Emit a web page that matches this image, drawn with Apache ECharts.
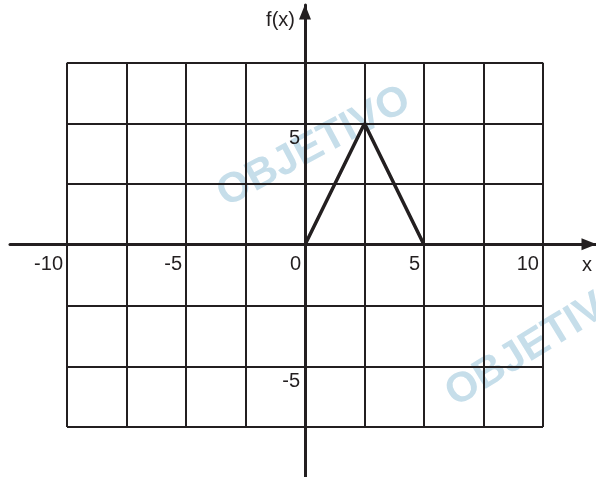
<!DOCTYPE html>
<html>
<head>
<meta charset="utf-8">
<script src="https://cdn.jsdelivr.net/npm/echarts@6/dist/echarts.min.js"></script>
<style>
  html, body { margin: 0; padding: 0; background: #fff; }
  #chart { width: 596px; height: 477px; }
</style>
</head>
<body>
<div id="chart"></div>
<script>
// grid extents (units) and labels
const xRange = [-10, 10]
const yRange = [-7.5, 7.5]
const gridStep = 2.5
const xTickLabels = [-10, -5, 0, 5, 10]
const yTickLabels = [5, -5]
// f(x) polyline points
const fx = [0, 2.5, 5]
const fy = [0, 5, 0]

const ink = '#231f20'
const font = 'Liberation Sans, Arial, sans-serif'
const wmColor = '#c6deea'

const chart = echarts.init(document.getElementById('chart'))

const option = {
  animation: false,
  backgroundColor: '#fff',
  // watermark
  graphic: [
    {
      type: 'text', x: 314, y: 147, rotation: 0.49, z: -10,
      style: { text: 'OBJETIVO', fill: wmColor, font: 'bold 42px ' + font, align: 'center', verticalAlign: 'middle' }
    },
    {
      type: 'text', x: 540, y: 342, rotation: 0.55, z: -10,
      style: { text: 'OBJETIVO', fill: wmColor, font: 'bold 42px ' + font, align: 'center', verticalAlign: 'middle' }
    }
  ],
  grid: [
    // squared paper
    { left: 67, right: 53, top: 62.7, bottom: 50, containLabel: false, outerBoundsMode: 'none' },
    // axes with arrows
    { left: 10, right: 0, top: 5, bottom: 0, containLabel: false, outerBoundsMode: 'none' }
  ],
  xAxis: [
    {
      gridIndex: 0, type: 'value',
      min: xRange[0], max: xRange[1], interval: gridStep,
      axisLine: { show: false }, axisTick: { show: false }, axisLabel: { show: false },
      splitLine: { show: true, lineStyle: { color: ink, width: 2 } }
    },
    {
      gridIndex: 1, type: 'value',
      min: -12.395, max: 12.227,
      position: 'bottom', offset: -232.7,
      name: 'x', nameLocation: 'end', nameGap: -4,
      nameTextStyle: { color: ink, fontFamily: font, fontSize: 20, align: 'right', verticalAlign: 'top', padding: [11, 0, 0, 0] },
      axisLine: {
        show: true, onZero: false,
        lineStyle: { color: ink, width: 3 },
        symbol: ['none', 'triangle'], symbolSize: [12, 15], symbolOffset: [0, -7]
      },
      axisTick: { show: false },
      splitLine: { show: false },
      axisLabel: {
        customValues: xTickLabels,
        color: ink, fontFamily: font, fontSize: 20,
        margin: 10, align: 'right', verticalAlign: 'top', padding: [0, 4, 0, 0]
      }
    }
  ],
  yAxis: [
    {
      gridIndex: 0, type: 'value',
      min: yRange[0], max: yRange[1], interval: gridStep,
      axisLine: { show: false }, axisTick: { show: false }, axisLabel: { show: false },
      splitLine: { show: true, lineStyle: { color: ink, width: 2 } }
    },
    {
      gridIndex: 1, type: 'value',
      min: -9.581, max: 9.853,
      position: 'left', offset: -295,
      name: 'f(x)', nameLocation: 'end', nameGap: -15,
      nameTextStyle: { color: ink, fontFamily: font, fontSize: 20, align: 'right', verticalAlign: 'middle', padding: [0, 10, 0, 0] },
      axisLine: {
        show: true, onZero: false,
        lineStyle: { color: ink, width: 3 },
        symbol: ['none', 'triangle'], symbolSize: [12, 15], symbolOffset: [0, -7]
      },
      axisTick: { show: false },
      splitLine: { show: false },
      axisLabel: {
        customValues: yTickLabels,
        color: ink, fontFamily: font, fontSize: 20,
        margin: 5, align: 'right', verticalAlign: 'top', padding: [6, 0, 0, 0]
      }
    }
  ],
  series: [
    {
      type: 'line',
      xAxisIndex: 0, yAxisIndex: 0,
      data: fx.map((x, i) => [x, fy[i]]),
      showSymbol: false,
      lineStyle: { color: ink, width: 3.5 },
      z: 5
    }
  ]
}

chart.setOption(option)
</script>
</body>
</html>
